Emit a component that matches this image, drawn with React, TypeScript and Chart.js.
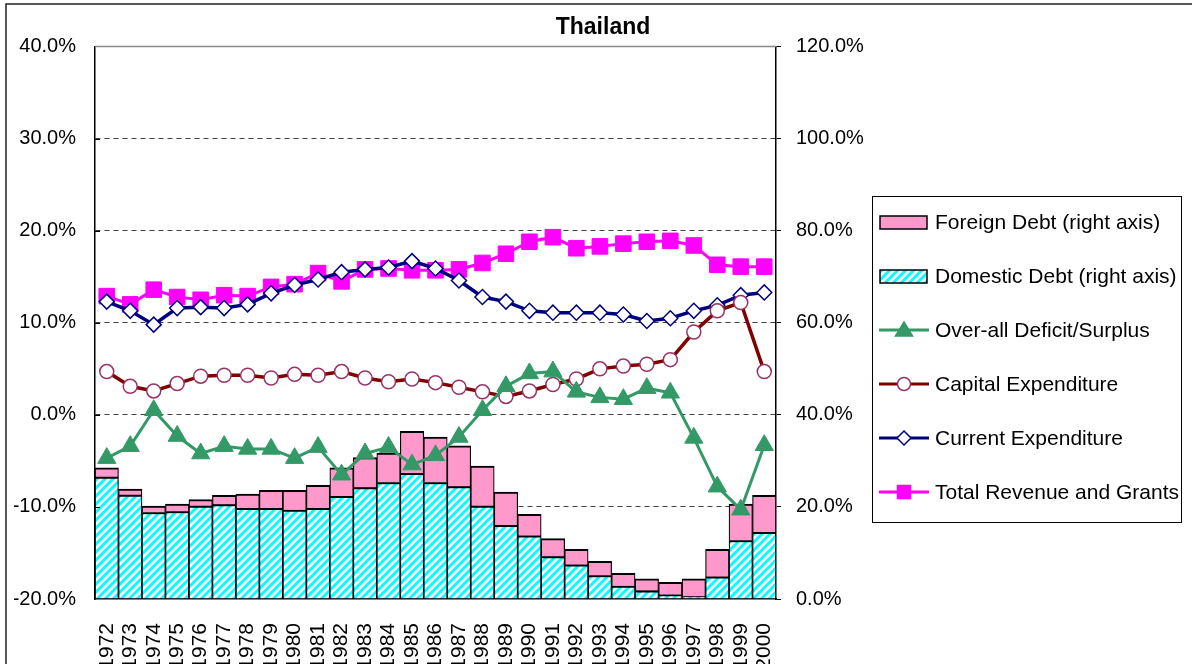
import React, { useEffect, useRef } from 'react';
import { Chart, registerables } from 'chart.js';

Chart.register(...registerables);

const years = ['1972','1973','1974','1975','1976','1977','1978','1979','1980','1981','1982','1983','1984','1985','1986','1987','1988','1989','1990','1991','1992','1993','1994','1995','1996','1997','1998','1999','2000'];

// right axis (%)
const domesticDebt = [26.5, 22.6, 18.8, 19.0, 20.2, 20.5, 19.7, 19.7, 19.3, 19.7, 22.3, 24.2, 25.3, 27.3, 25.3, 24.4, 20.2, 16.0, 13.7, 9.2, 7.4, 5.1, 2.8, 1.8, 0.9, 0.5, 4.8, 12.7, 14.5];
const foreignDebt = [2.0, 1.3, 1.4, 1.6, 1.4, 2.0, 3.1, 3.9, 4.3, 5.0, 6.2, 6.5, 6.4, 9.1, 9.9, 8.9, 8.7, 7.2, 4.7, 3.9, 3.4, 3.1, 2.8, 2.6, 2.7, 3.9, 6.0, 7.9, 8.0];

// left axis (%)
const deficitSurplus = [-4.7, -3.4, 0.5, -2.3, -4.2, -3.4, -3.7, -3.7, -4.7, -3.5, -6.5, -4.2, -3.5, -5.4, -4.4, -2.4, 0.5, 3.1, 4.5, 4.7, 2.5, 1.9, 1.7, 2.9, 2.4, -2.5, -7.8, -10.3, -3.3];
const capitalExp = [4.7, 3.1, 2.6, 3.4, 4.2, 4.3, 4.3, 4.0, 4.4, 4.3, 4.7, 4.0, 3.6, 3.9, 3.5, 3.0, 2.5, 2.0, 2.6, 3.3, 3.9, 5.0, 5.3, 5.5, 6.0, 9.0, 11.3, 12.2, 4.7];
const currentExp = [12.3, 11.3, 9.8, 11.6, 11.7, 11.6, 12.0, 13.2, 14.1, 14.7, 15.5, 15.8, 16.0, 16.7, 15.9, 14.6, 12.8, 12.3, 11.3, 11.1, 11.1, 11.1, 10.9, 10.2, 10.5, 11.3, 11.9, 13.0, 13.3];
const revenueGrants = [12.9, 12.0, 13.6, 12.8, 12.5, 13.0, 12.9, 13.9, 14.2, 15.4, 14.5, 15.8, 15.9, 15.7, 15.7, 15.8, 16.5, 17.5, 18.8, 19.3, 18.1, 18.3, 18.6, 18.8, 18.9, 18.4, 16.3, 16.1, 16.1];

const leftTicks = { min: -20, max: 40, step: 10 };
const rightTicks = { min: 0, max: 120, step: 20 };

const FONT = '"Liberation Sans", Arial, sans-serif';
const PINK = '#FF99CC';
const CYAN = '#00FFFF';
const GREEN = '#339966';
const MAROON = '#800000';
const PLUM = '#993366';
const NAVY = '#000080';
const MAGENTA = '#FF00FF';

function makeHatch(ctx: CanvasRenderingContext2D) {
  const c = document.createElement('canvas');
  c.width = 8;
  c.height = 8;
  const g = c.getContext('2d')!;
  g.fillStyle = '#ffffff';
  g.fillRect(0, 0, 8, 8);
  g.strokeStyle = CYAN;
  g.lineWidth = 3;
  g.beginPath();
  g.moveTo(-2, 2); g.lineTo(2, -2);
  g.moveTo(0, 8); g.lineTo(8, 0);
  g.moveTo(6, 10); g.lineTo(10, 6);
  g.stroke();
  return ctx.createPattern(c, 'repeat')!;
}

function drawMarker(ctx: CanvasRenderingContext2D, kind: string, x: number, y: number, fill: string, stroke: string) {
  ctx.save();
  ctx.beginPath();
  if (kind === 'triangle') {
    ctx.moveTo(x, y - 8);
    ctx.lineTo(x + 8.5, y + 6);
    ctx.lineTo(x - 8.5, y + 6);
    ctx.closePath();
  } else if (kind === 'circle') {
    ctx.arc(x, y, 6.5, 0, Math.PI * 2);
  } else if (kind === 'diamond') {
    ctx.moveTo(x, y - 7);
    ctx.lineTo(x + 7, y);
    ctx.lineTo(x, y + 7);
    ctx.lineTo(x - 7, y);
    ctx.closePath();
  } else {
    ctx.rect(x - 6.5, y - 6.5, 13, 13);
  }
  ctx.fillStyle = fill;
  ctx.fill();
  ctx.lineWidth = 1.5;
  ctx.strokeStyle = stroke;
  ctx.stroke();
  ctx.restore();
}

export default function App() {
  const ref = useRef<HTMLCanvasElement | null>(null);

  useEffect(() => {
    const canvas = ref.current!;
    const ctx0 = canvas.getContext('2d')!;
    const hatch = makeHatch(ctx0);

    const legendItems = [
      { label: 'Foreign Debt (right axis)', type: 'box', fill: PINK as any },
      { label: 'Domestic Debt (right axis)', type: 'box', fill: hatch as any },
      { label: 'Over-all Deficit/Surplus', type: 'line', color: GREEN, marker: 'triangle', mfill: GREEN, mstroke: GREEN },
      { label: 'Capital Expenditure', type: 'line', color: MAROON, marker: 'circle', mfill: '#ffffff', mstroke: PLUM },
      { label: 'Current Expenditure', type: 'line', color: NAVY, marker: 'diamond', mfill: '#ffffff', mstroke: NAVY },
      { label: 'Total Revenue and Grants', type: 'line', color: MAGENTA, marker: 'square', mfill: MAGENTA, mstroke: MAGENTA },
    ];

    const decor = {
      id: 'decor',
      beforeDraw(chart: any) {
        const c = chart.ctx;
        c.save();
        c.fillStyle = '#ffffff';
        c.fillRect(0, 0, chart.width, chart.height);
        c.strokeStyle = '#222';
        c.lineWidth = 1.5;
        c.beginPath();
        c.moveTo(6, chart.height + 5);
        c.lineTo(6, 4);
        c.lineTo(chart.width + 5, 4);
        c.stroke();
        c.restore();
      },
      beforeDatasetsDraw(chart: any) {
        const c = chart.ctx;
        const a = chart.chartArea;
        c.save();
        c.strokeStyle = '#888';
        c.lineWidth = 1.5;
        c.beginPath();
        c.moveTo(a.left, a.top);
        c.lineTo(a.right, a.top);
        c.stroke();
        c.restore();
      },
      afterDatasetsDraw(chart: any) {
        const c = chart.ctx;
        const a = chart.chartArea;
        const ys = chart.scales.y;
        c.save();
        c.strokeStyle = '#000';
        c.lineWidth = 1;
        for (let v = leftTicks.min + leftTicks.step; v < leftTicks.max; v += leftTicks.step) {
          const py = Math.round(ys.getPixelForValue(v)) + 0.5;
          c.beginPath();
          c.moveTo(a.left, py);
          c.lineTo(a.left + 5, py);
          c.stroke();
        }
        c.restore();
      },
      afterDraw(chart: any) {
        const c = chart.ctx;
        c.save();
        const bx = 872, by = 196, bw = 309, bh = 326;
        c.fillStyle = '#ffffff';
        c.fillRect(bx, by, bw, bh);
        c.strokeStyle = '#000';
        c.lineWidth = 1;
        c.strokeRect(bx + 0.5, by + 0.5, bw, bh);
        c.font = '21px ' + FONT;
        c.textBaseline = 'middle';
        c.textAlign = 'left';
        legendItems.forEach((it: any, i: number) => {
          const cy = 222 + i * 54;
          if (it.type === 'box') {
            c.fillStyle = it.fill;
            c.fillRect(880, cy - 6, 47, 13);
            c.strokeStyle = '#000';
            c.lineWidth = 1.5;
            c.strokeRect(880, cy - 6, 47, 13);
          } else {
            c.strokeStyle = it.color;
            c.lineWidth = 3;
            c.beginPath();
            c.moveTo(879, cy);
            c.lineTo(929, cy);
            c.stroke();
            drawMarker(c, it.marker, 904, cy, it.mfill, it.mstroke);
          }
          c.fillStyle = '#000';
          c.fillText(it.label, 935, cy + 1);
        });
        c.restore();
      },
    };

    const barBorder = { top: 2, bottom: 0.5, left: 1.2, right: 1.2 };

    const chart = new Chart(canvas, {
      type: 'bar',
      data: {
        labels: years,
        datasets: [
          {
            type: 'bar',
            label: 'Domestic Debt (right axis)',
            data: domesticDebt,
            yAxisID: 'y1',
            backgroundColor: hatch as any,
            borderColor: '#000',
            borderWidth: barBorder as any,
            borderSkipped: false,
            barPercentage: 1,
            categoryPercentage: 1,
            order: 10,
            stack: 'debt',
          },
          {
            type: 'bar',
            label: 'Foreign Debt (right axis)',
            data: foreignDebt,
            yAxisID: 'y1',
            backgroundColor: PINK,
            borderColor: '#000',
            borderWidth: barBorder as any,
            borderSkipped: false,
            barPercentage: 1,
            categoryPercentage: 1,
            order: 10,
            stack: 'debt',
          },
          {
            type: 'line',
            label: 'Over-all Deficit/Surplus',
            data: deficitSurplus,
            yAxisID: 'y',
            borderColor: GREEN,
            borderWidth: 3,
            pointStyle: 'triangle',
            pointRadius: 10.5,
            pointBackgroundColor: GREEN,
            pointBorderColor: GREEN,
            pointBorderWidth: 1,
            order: 1,
          },
          {
            type: 'line',
            label: 'Capital Expenditure',
            data: capitalExp,
            yAxisID: 'y',
            borderColor: MAROON,
            borderWidth: 3.5,
            pointStyle: 'circle',
            pointRadius: 7,
            pointBackgroundColor: '#ffffff',
            pointBorderColor: PLUM,
            pointBorderWidth: 1.5,
            order: 2,
          },
          {
            type: 'line',
            label: 'Current Expenditure',
            data: currentExp,
            yAxisID: 'y',
            borderColor: NAVY,
            borderWidth: 3.5,
            pointStyle: 'rectRot',
            pointRadius: 7.5,
            pointBackgroundColor: '#ffffff',
            pointBorderColor: NAVY,
            pointBorderWidth: 1.5,
            order: 3,
          },
          {
            type: 'line',
            label: 'Total Revenue and Grants',
            data: revenueGrants,
            yAxisID: 'y',
            borderColor: MAGENTA,
            borderWidth: 3,
            pointStyle: 'rect',
            pointRadius: 11,
            pointBackgroundColor: MAGENTA,
            pointBorderColor: MAGENTA,
            pointBorderWidth: 1,
            order: 4,
          },
        ],
      },
      options: {
        responsive: false,
        animation: false,
        devicePixelRatio: 1,
        layout: { padding: { left: 14, right: 0, top: 0, bottom: 0 } },
        font: { family: FONT },
        plugins: {
          legend: { display: false },
          tooltip: { enabled: false },
          title: {
            display: true,
            text: 'Thailand',
            color: '#000',
            font: { family: FONT, size: 23, weight: 'bold', lineHeight: 1.2 },
            padding: { top: 14, bottom: 5 },
          },
        },
        scales: {
          x: {
            stacked: true,
            grid: { display: false },
            border: { display: true, color: '#000', width: 1.5 },
            ticks: {
              color: '#000',
              font: { family: FONT, size: 21 },
              maxRotation: 90,
              minRotation: 90,
              autoSkip: false,
              padding: 16,
            },
            afterFit: (s: any) => { s.height = 65; },
          },
          y: {
            position: 'left',
            min: leftTicks.min,
            max: leftTicks.max,
            ticks: {
              stepSize: leftTicks.step,
              color: '#000',
              font: { family: FONT, size: 20 },
              padding: 19,
              callback: (v: any) => Number(v).toFixed(1) + '%',
            },
            grid: {
              drawTicks: false,
              color: (c: any) => (c.tick && (c.tick.value === leftTicks.max || c.tick.value === leftTicks.min)) ? 'rgba(0,0,0,0)' : '#404040',
              lineWidth: 1,
            },
            border: { display: true, color: '#000', width: 1.5, dash: [5, 4] },
            afterFit: (s: any) => { s.width = 81; },
          },
          y1: {
            position: 'right',
            stacked: true,
            min: rightTicks.min,
            max: rightTicks.max,
            ticks: {
              stepSize: rightTicks.step,
              color: '#000',
              font: { family: FONT, size: 20 },
              padding: 15,
              callback: (v: any) => Number(v).toFixed(1) + '%',
            },
            grid: { drawOnChartArea: false, drawTicks: true, tickLength: 5, color: '#000' },
            border: { display: true, color: '#000', width: 1.5 },
            afterFit: (s: any) => { s.width = 416; },
          },
        },
      } as any,
      plugins: [decor],
    });

    return () => chart.destroy();
  }, []);

  return (
    <div style={{ position: 'absolute', left: 0, top: 0, width: 1192, height: 664, overflow: 'hidden' }}>
      <canvas ref={ref} width={1192} height={664} style={{ display: 'block' }} />
    </div>
  );
}
